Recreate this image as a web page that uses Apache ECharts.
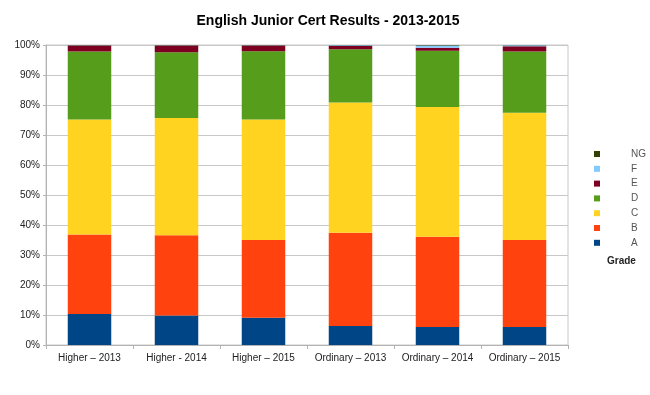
<!DOCTYPE html>
<html>
<head>
<meta charset="utf-8">
<script src="https://cdn.jsdelivr.net/npm/echarts@6/dist/echarts.min.js"></script>
<style>
html,body{margin:0;padding:0;background:#fff;}
#chart{width:650px;height:395px;}
</style>
</head>
<body>
<div id="chart"></div>
<script>
var categories = ['Higher \u2013 2013', 'Higher - 2014', 'Higher \u2013 2015', 'Ordinary \u2013 2013', 'Ordinary \u2013 2014', 'Ordinary \u2013 2015'];
var gradeA = [10.3, 9.8, 9.1, 6.3, 6.0, 6.0];
var gradeB = [26.5, 26.8, 25.9, 31.1, 30.1, 29.0];
var gradeC = [38.4, 39.1, 40.2, 43.4, 43.2, 42.4];
var gradeD = [22.6, 21.9, 22.7, 17.8, 18.8, 20.4];
var gradeE = [2.0, 2.2, 1.9, 1.1, 1.0, 1.8];
var gradeF = [0.1, 0.1, 0.1, 0.2, 0.7, 0.3];
var gradeNG = [0.1, 0.1, 0.1, 0.1, 0.2, 0.1];
var yTicks = ['0%', '10%', '20%', '30%', '40%', '50%', '60%', '70%', '80%', '90%', '100%'];

var seriesDefs = [
  {name: 'A', data: gradeA, color: '#004586'},
  {name: 'B', data: gradeB, color: '#ff420e'},
  {name: 'C', data: gradeC, color: '#ffd320'},
  {name: 'D', data: gradeD, color: '#579d1c'},
  {name: 'E', data: gradeE, color: '#7e0021'},
  {name: 'F', data: gradeF, color: '#83caff'},
  {name: 'NG', data: gradeNG, color: '#314004'}
];

var chart = echarts.init(document.getElementById('chart'));
chart.setOption({
  backgroundColor: '#fff',
  animation: false,
  title: {
    text: 'English Junior Cert Results - 2013-2015',
    left: 323, textAlign: 'center', top: 9,
    textStyle: {fontFamily: 'Liberation Sans, Arial, sans-serif', fontSize: 14, fontWeight: 'bold', color: '#000'}
  },
  legend: {
    orient: 'vertical',
    left: 589, top: 144,
    data: ['NG', 'F', 'E', 'D', 'C', 'B', 'A'],
    itemWidth: 6, itemHeight: 6, itemGap: 4.8,
    icon: 'rect',
    selectedMode: false,
    textStyle: {fontFamily: 'Liberation Sans, Arial, sans-serif', fontSize: 10, color: '#555', padding: [0, 0, 0, 26]}
  },
  graphic: [{
    type: 'text', left: 607, top: 256,
    style: {text: 'Grade', font: 'bold 10px "Liberation Sans", Arial, sans-serif', fill: '#222'}
  }],
  grid: {left: 46, right: 82, top: 45, bottom: 50, show: true, borderColor: '#c8c8c8', borderWidth: 1},
  xAxis: {
    type: 'category', data: categories,
    axisLine: {lineStyle: {color: '#b3b3b3'}},
    axisTick: {show: true, length: 4, alignWithLabel: false, lineStyle: {color: '#b3b3b3'}},
    axisLabel: {fontFamily: 'Liberation Sans, Arial, sans-serif', fontSize: 10, color: '#222', margin: 8, interval: 0}
  },
  yAxis: {
    type: 'value', min: 0, max: 100, interval: 10,
    axisLine: {show: true, lineStyle: {color: '#b3b3b3'}},
    axisTick: {show: true, length: 3, lineStyle: {color: '#b3b3b3'}},
    splitLine: {lineStyle: {color: '#c8c8c8'}},
    axisLabel: {
      fontFamily: 'Liberation Sans, Arial, sans-serif', fontSize: 10, color: '#222', margin: 6,
      formatter: function (v) { return yTicks[Math.round(v / 10)]; }
    }
  },
  series: seriesDefs.map(function (s) {
    return {
      name: s.name, type: 'bar', stack: 'total', data: s.data,
      barWidth: '50%',
      itemStyle: {color: s.color}
    };
  })
});
</script>
</body>
</html>
